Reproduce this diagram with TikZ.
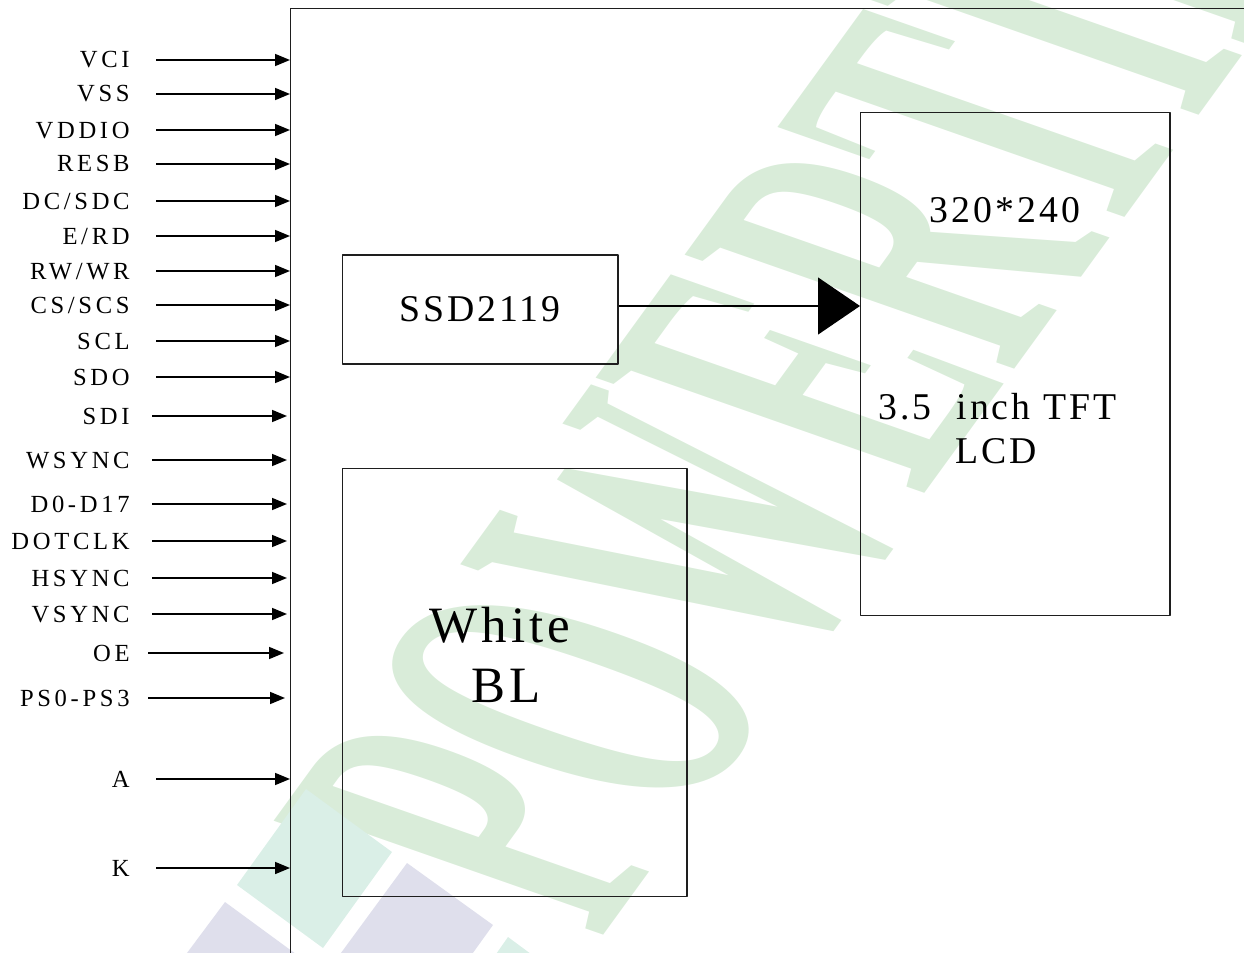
\documentclass[tikz,border=0pt]{standalone}
\usepackage{fontspec}
\setmainfont{Liberation Serif}
\newfontfamily\pinfont[LetterSpace=15]{Liberation Serif}
\newfontfamily\blockfont[LetterSpace=8]{Liberation Serif}
\newfontfamily\markfont{Liberation Serif}
\definecolor{boxline}{HTML}{1E1E1E}
\definecolor{wmgreen}{HTML}{D9ECD9}
\definecolor{wmteal}{HTML}{DAEFE7}
\definecolor{wmlilac}{HTML}{DFDFEC}
\usetikzlibrary{arrows.meta}

\begin{document}
\begin{tikzpicture}[
  x=0.02cm,y=-0.02cm,
  line join=round,
  pinlabel/.style={anchor=base east,inner sep=0pt,font=\pinfont\fontsize{14}{16}\selectfont},
  pinarrow/.style={draw=black,line width=0.9pt,-{Triangle[length=0.3cm,width=0.24cm]}},
  blockbox/.style={draw=boxline,line width=0.6pt,inner sep=0pt},
  blocktext/.style={anchor=base,inner sep=0pt,font=\blockfont\fontsize{21.5}{25}\selectfont},
  bltext/.style={anchor=base,inner sep=0pt,font=\blockfont\fontsize{29}{34}\selectfont},
  bigarrow/.style={draw=black,line width=0.7pt,-{Triangle[length=0.84cm,width=1.14cm]}},
  watermark/.style={transform shape,anchor=base west,inner sep=0pt,text=wmgreen,font=\markfont\bfseries\fontsize{290}{300}\selectfont},
  tile/.style={draw=none}
]
  \useasboundingbox (0,0) rectangle (1244,953);
  \clip (0,0) rectangle (1244,953);

  % watermark
  \begin{scope}[shift={(600,940)},rotate=54,xslant=-0.3,xscale=0.45]
    \node[watermark] (wm) at (0,0) {POWERTIP};
  \end{scope}
  \fill[tile,wmteal] (306,789) -- (392,852) -- (323,948) -- (237,885) -- cycle;
  \fill[tile,wmlilac] (225,902) -- (300,957) -- (184,957) -- cycle;
  \fill[tile,wmlilac] (407,863) -- (493,925) -- (470,957) -- (338,957) -- cycle;
  \fill[tile,wmteal] (508,937) -- (535,957) -- (494,957) -- cycle;

  % module outline
  \node[blockbox,line width=0.8pt,anchor=north west,minimum width=20cm,minimum height=20cm] (module) at (290,8) {};

  % input pins
  \foreach \pin/\txt/\y/\xa/\xb in {
      vci/VCI/60/156/290, vss/VSS/94/156/290, vddio/VDDIO/130/156/290,
      resb/RESB/164/156/290, dcsdc/{DC/SDC}/201/156/290, erd/{E/RD}/236/156/290,
      rwwr/{RW/WR}/271/156/290, cs/{CS/SCS}/305/156/290, scl/SCL/341/156/290,
      sdo/SDO/377/156/290, sdi/SDI/416/152/287, wsync/WSYNC/460/152/287,
      data/D0-D17/504/152/287, dotclk/DOTCLK/541/152/287, hsync/HSYNC/578/152/287,
      vsync/VSYNC/614/152/287, oe/OE/653/148/284, ps/PS0-PS3/698/148/285,
      bla/A/779/156/290, blk/K/868/156/290} {
    \node[pinlabel] (\pin) at (130,\y+8) {\txt};
    \coordinate (\pin-a) at (\xa,\y);
    \coordinate (\pin-b) at (\xb,\y);
    \draw[pinarrow] (\pin-a) -- (\pin-b);
  }

  % blocks
  \node[blockbox,minimum width=5.52cm,minimum height=2.18cm,font=\blockfont\fontsize{21.5}{25}\selectfont] (ssd) at (480,309.5) {SSD2119};

  \node[blockbox,minimum width=6.2cm,minimum height=10.08cm] (lcd) at (1015,364) {};
  \node[blocktext] (res) at (1005,222) {320*240};
  \node[blocktext,anchor=base west] (size) at (878,419) {3.5\ \ inch TFT};
  \node[blocktext,anchor=base west] (kind) at (955,463) {LCD};

  \node[blockbox,minimum width=6.9cm,minimum height=8.58cm] (bl) at (514.5,682.5) {};
  \node[bltext] (white) at (500,642) {White};
  \node[bltext] (blname) at (506,702) {BL};

  \coordinate (lcdin) at (860,306);
  \draw[bigarrow] (ssd.east |- lcdin) -- (lcdin);
\end{tikzpicture}
\end{document}
